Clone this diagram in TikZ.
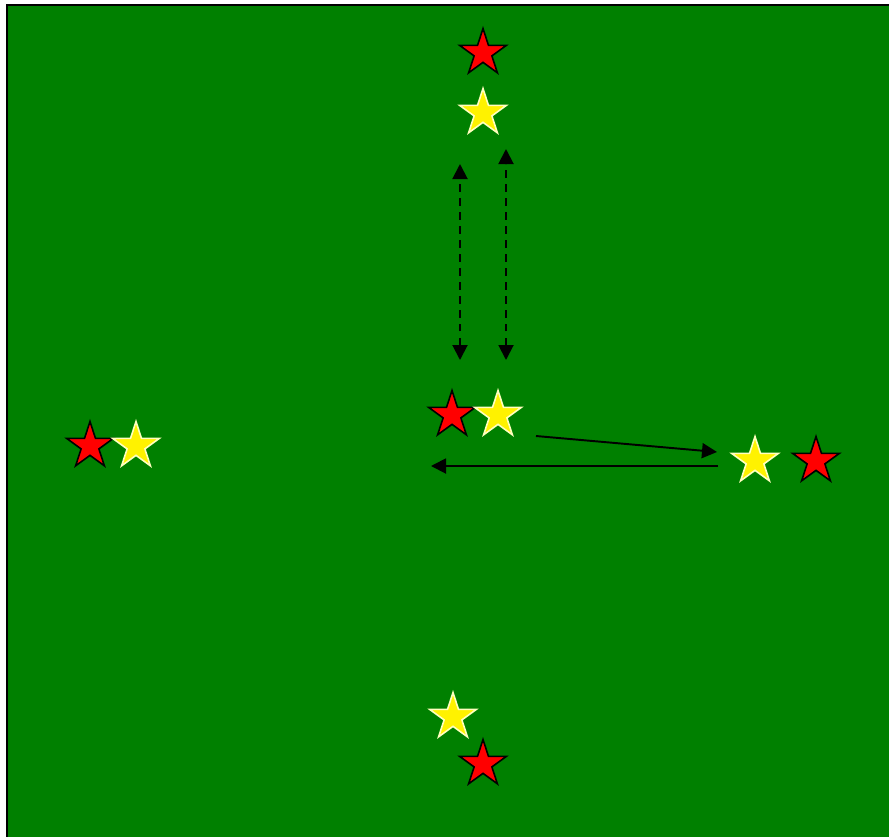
\documentclass[tikz,border=0pt]{standalone}
\usepackage{xcolor}
\definecolor{pitch}{RGB}{0,128,0}
\definecolor{paleyellow}{RGB}{255,255,190}
\usepackage{tikz}
\usetikzlibrary{arrows.meta,shapes.geometric}

\tikzset{
    player/.style={star, star points=5, star point ratio=2.62, minimum size=0.98cm, inner sep=0pt, line width=0.9pt},
    redstar/.style={player, fill=red, draw=black},
    yellowstar/.style={player, fill=yellow, draw=paleyellow},
    run/.style={line width=1.1pt, -{Triangle[length=3mm,width=3mm]}},
    drill/.style={line width=1.1pt, dash pattern=on 1.5mm off 1.3mm, {Triangle[length=3mm,width=3mm]}-{Triangle[length=3mm,width=3mm]}}
}

\begin{document}
\begin{tikzpicture}[x=0.02cm, y=-0.02cm]
    \useasboundingbox (0,0) rectangle (889,836);
    \clip (0,0) rectangle (889,836);

    % Pitch
    \draw[fill=pitch, line width=1.1pt] (7,5) rectangle (900,850);

    % Top pair
    \node[redstar] (redtop) at (483,53) {};
    \node[yellowstar] (yeltop) at (483,113) {};

    % Centre pair
    \node[redstar] (redmid) at (452,415) {};
    \node[yellowstar] (yelmid) at (498,415) {};

    % Left pair
    \node[redstar] (redleft) at (90,446) {};
    \node[yellowstar] (yelleft) at (136,446) {};

    % Right pair
    \node[yellowstar] (yelright) at (755,461) {};
    \node[redstar] (redright) at (816,461) {};

    % Bottom pair
    \node[yellowstar] (yelbot) at (453,717) {};
    \node[redstar] (redbot) at (483,764) {};

    % Run ends
    \coordinate (upA) at (460,164);
    \coordinate (downA) at (460,360);
    \coordinate (upB) at (506,149);
    \coordinate (downB) at (506,360);
    \coordinate (passout) at (536,436);
    \coordinate (passin) at (717,452);
    \coordinate (backout) at (718,466);
    \coordinate (backin) at (431,466);

    % Up and down runs
    \draw[drill] (downA) -- (upA);
    \draw[drill] (downB) -- (upB);

    % Out and back
    \draw[run] (passout) -- (passin);
    \draw[run] (backout) -- (backin);
\end{tikzpicture}
\end{document}
